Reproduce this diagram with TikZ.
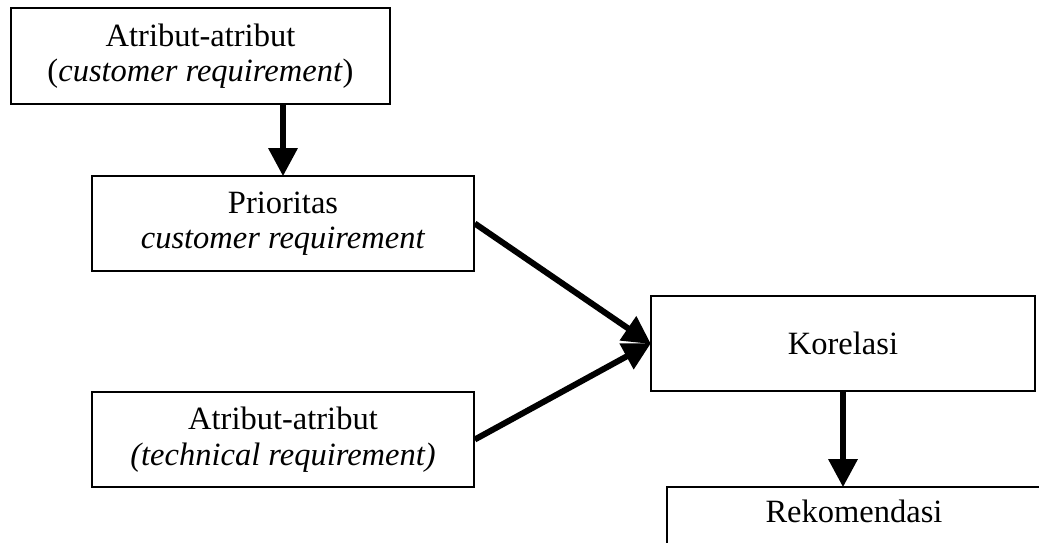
\documentclass[tikz,border=0pt]{standalone}
\usepackage{fontspec}
\setmainfont{Liberation Serif}
\usetikzlibrary{arrows.meta}
\begin{document}
\begin{tikzpicture}[x=1pt,y=-1pt,
  box/.style={draw, line width=1.6pt, rectangle, align=center, inner sep=0pt,
    font=\fontsize{32.5}{35.5}\selectfont},
  link/.style={line width=6pt, -{Triangle[width=28pt,length=28pt]}, shorten >=-1pt}]
\clip (0,0) rectangle (1039,542);
\fill[white] (0,0) rectangle (1039,542);
\node[box, minimum width=379pt, minimum height=96pt] (b1) at (200.5,56) {Atribut-atribut\\(\textit{customer requirement})};
\node[box, minimum width=382pt, minimum height=95pt] (b2) at (283,223.5) {Prioritas\\\textit{customer requirement}};
\node[box, minimum width=382pt, minimum height=95pt] (b3) at (283,439.5) {Atribut-atribut\\\textit{(technical requirement)}};
\node[box, minimum width=384pt, minimum height=95pt] (b4) at (843,343.5) {Korelasi};
\node[box, minimum width=374pt, minimum height=95pt] (b5) at (854,534.5) {Rekomendasi\\\strut};
\draw[link] (b1.south -| b2.north) -- (b2.north);
\draw[link] (b2.east) -- (b4.west);
\draw[link] (b3.east) -- (b4.west);
\draw[link] (b4.south) -- (b4.south |- b5.north);
\end{tikzpicture}
\end{document}
